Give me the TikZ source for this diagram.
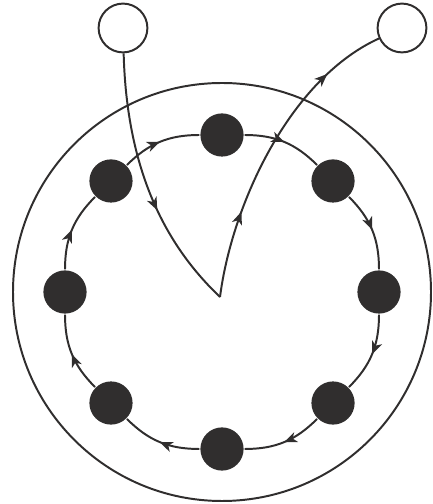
\documentclass[tikz,border=0pt]{standalone}
\usepackage{xcolor}
\usetikzlibrary{arrows.meta, decorations.markings}
\definecolor{ink}{RGB}{48,46,46}

\begin{document}
\begin{tikzpicture}[
  x=0.025cm, y=0.025cm, line width=1.4pt, color=ink,
  dot/.style={circle, fill=ink, inner sep=0pt, minimum size=10.8mm},
  hollow/.style={circle, draw=ink, fill=white, inner sep=0pt, minimum size=12.2mm},
  arrowat/.style={postaction={decorate, decoration={markings,
      mark=at position #1 with {\arrow{Stealth[length=3.2mm, width=2.6mm, inset=0.9mm]}}}}},
]
\useasboundingbox (0,0) rectangle (432,504);
\coordinate (c) at (222,212);
\coordinate (tip) at (220,207);
\draw (c) circle[radius=209];
% ring of dots, clockwise from the top
\begin{scope}[shift={(c)}]
  \foreach \i in {0,...,7}
    \node[dot] (d\i) at ({90-45*\i}:157) {};
\end{scope}
\foreach \i [evaluate=\i as \j using {int(mod(\i+1,8))}] in {0,...,7}
  \draw[arrowat=0.5] (d\i) to[bend left=22.5] (d\j);
% way in and way out
\node[hollow] (inlet) at (123,476) {};
\node[hollow] (outlet) at (402,476) {};
\draw[arrowat=0.6] (inlet) .. controls (127,320) and (175,250) .. (tip);
\draw[arrowat=0.28, arrowat=0.8] (tip) .. controls (232,300) and (290,425) .. (outlet);
\end{tikzpicture}
\end{document}
